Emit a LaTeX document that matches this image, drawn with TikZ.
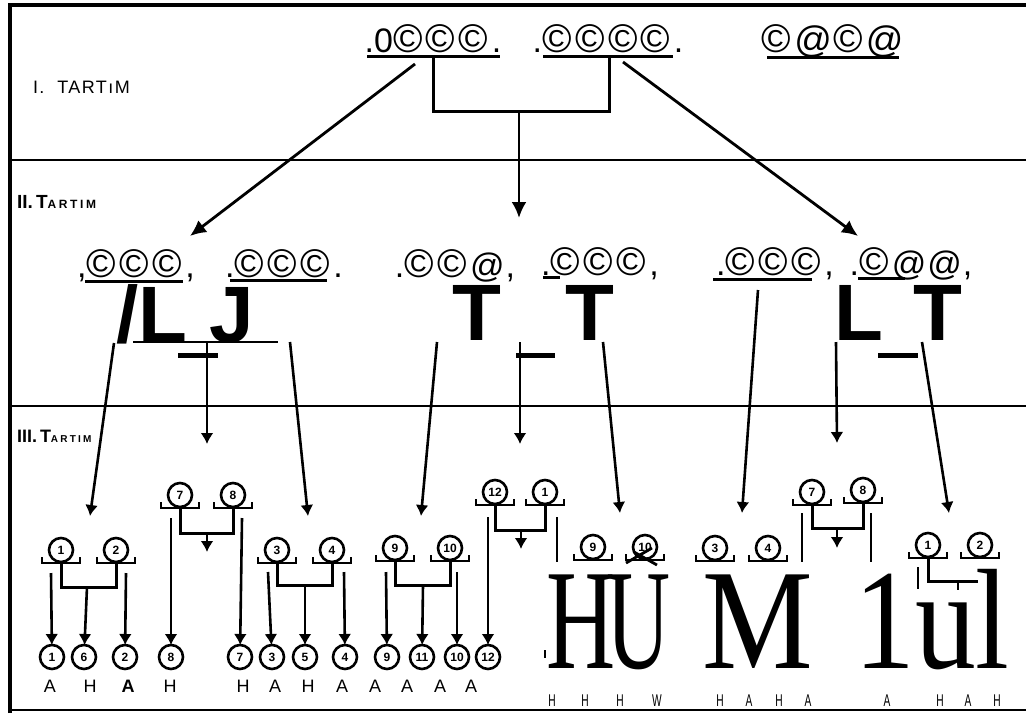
\documentclass[tikz,border=0pt]{standalone}
\usepackage{fontspec}
\setmainfont{Liberation Sans}
\newfontfamily\lsf[LetterSpace=8]{Liberation Sans}
\newfontfamily\scf[LetterSpace=22]{Liberation Sans}
\newfontfamily\plainf{Liberation Sans}
\newfontfamily\serf{Liberation Serif}
\usetikzlibrary{arrows.meta,calc}
\tikzset{
  tray/.pic={\draw[line width=2.8pt] (-19,-6) -- (-19,0) -- (19,0) -- (19,-6);},
}
\newcommand\trnode[4]{\node[num] (#1) at (#2,#3) {#4}; \pic at (#2,#3+13) {tray};}
\newcommand\Co{{\fontsize{40}{40}\selectfont ©}\kern3.5pt}
\newcommand\At{{\fontsize{37}{37}\selectfont @}\kern1pt}
\newcommand\Ats{{\fontsize{34}{34}\selectfont @}\kern1pt}
\begin{document}
\begin{tikzpicture}[x=1pt,y=-1pt,
  every node/.style={inner sep=0pt, outer sep=0pt},
  cc/.style={font=\plainf\fontsize{34}{34}\selectfont, anchor=base},
  big/.style={font=\plainf\bfseries\fontsize{80}{80}\selectfont, anchor=base},
  huge/.style={font=\serf\fontsize{143}{143}\selectfont, anchor=base},
  num/.style={circle, draw, line width=2.6pt, minimum size=24pt, font=\plainf\bfseries\fontsize{12}{12}\selectfont},
  lbl/.style={font=\plainf\fontsize{18}{18}\selectfont, anchor=base},
  lbls/.style={font=\plainf\fontsize{17}{17}\selectfont, anchor=base},
  uline/.style={line width=3pt},
  bar/.style={line width=5pt},
  brk/.style={line width=3pt},
  bigarr/.style={line width=2.8pt, -{Latex[length=16pt,width=15pt]}},
  arr/.style={line width=2.6pt, -{Latex[length=11pt,width=13pt]}},
  plainln/.style={line width=2.6pt},
]
\useasboundingbox (0,0) rectangle (1026,713);
% frame and dividers
\draw[line width=3.5pt] (10,713) -- (10,5) -- (1026,5);
\draw[line width=2.2pt] (10,710) -- (1026,710);
\draw[line width=2pt] (10,160) -- (1026,160);
\draw[line width=2pt] (10,406) -- (1026,406);
% level labels
\node[anchor=base west, font=\lsf\fontsize{18}{18}\selectfont] (lab1) at (33,93) {I.\ \ TARTıM};
\node[anchor=base west, font=\plainf\bfseries] (lab2) at (17,208) {\fontsize{19}{19}\selectfont II.\,T{\scf\bfseries\fontsize{12}{12}\selectfont ARTIM}};
\node[anchor=base west, font=\plainf\bfseries] (lab3) at (17,442) {\fontsize{18}{18}\selectfont III.\,T{\scf\bfseries\fontsize{10}{10}\selectfont ARTIM}};
% row 1
\node[cc] (t1) at (433,52) {.0\Co\Co\Co.};
\node[cc] (t2) at (608,52) {.\Co\Co\Co\Co.};
\node[cc] (t3) at (833,52) {\Co\At\Co\At};
\draw[uline] (367,56) -- (500,56);
\draw[uline] (543,56) -- (673,56);
\draw[uline] (767,57) -- (899,57);
\coordinate (j1) at (433,56);
\coordinate (j2) at (609,56);
\coordinate (jm) at (519,111);
\draw[brk] (j1) |- (jm) -| (j2);
\coordinate (je) at (519,218);
\draw[bigarr] (jm) -- (je);
\coordinate (ls) at (415,64); \coordinate (le) at (190,236);
\coordinate (rs) at (623,62); \coordinate (re) at (858,236);
\draw[bigarr] (ls) -- (le);
\draw[bigarr] (rs) -- (re);
% row 2
\node[cc] (r1) at (136,277) {,\Co\Co\Co,};
\node[cc] (r2) at (284,277) {.\Co\Co\Co.};
\node[cc] (r3) at (455,277) {.\Co\Co\Ats,};
\node[cc] (r4) at (600,275) {.\Co\Co\Co,};
\node[cc] (r5) at (775,275) {.\Co\Co\Co,};
\node[cc] (r6) at (911,275) {.\Co\Ats\Ats,};
\draw[uline] (85,281) -- (183,281);
\draw[uline] (230,280) -- (327,280);
\draw[uline] (713,279) -- (812,279);
\draw[uline] (858,278) -- (905,278);
\draw[uline] (543,277) -- (560,277);
% OCR glyphs
\node[big, anchor=base west] (g1) at (116,342) {/L J};
\node[big] (g2) at (477,340) {T};
\node[big] (g3) at (590,340) {T};
\node[big, anchor=base west] (g4) at (834,340) {L};
\node[big] (g5) at (938,340) {T};
\draw[bar] (178,355) -- (218,355);
\draw[bar] (516,355) -- (555,355);
\draw[bar] (878,355) -- (918,355);
\draw[line width=1.4pt] (133,342) -- (278,342);
% row 2 -> row 3
\coordinate (d1s) at (114,343); \coordinate (d1e) at (90,516);
\coordinate (d2s) at (207,342); \coordinate (d2e) at (207,444);
\coordinate (d3s) at (290,342); \coordinate (d3e) at (308,516);
\coordinate (d4s) at (437,342); \coordinate (d4e) at (421,516);
\coordinate (d5s) at (520,342); \coordinate (d5e) at (520,444);
\coordinate (d6s) at (603,342); \coordinate (d6e) at (620,513);
\coordinate (d7s) at (758,290); \coordinate (d7e) at (742,513);
\coordinate (d8s) at (836,342); \coordinate (d8e) at (837,443);
\coordinate (d9s) at (922,342); \coordinate (d9e) at (949,513);
\foreach \i in {1,...,9} {\draw[arr] (d\i s) -- (d\i e);}
% group A
\trnode{A1}{61}{550}{1}
\trnode{A2}{116}{550}{2}
\coordinate (Am) at (87,587);
\draw[brk] (A1.south) |- (Am) -| (A2.south);
\node[num] (a1) at (52,657) {1};
\node[num] (a6) at (84,657) {6};
\node[num] (a2) at (125,657) {2};
\coordinate (As1) at (51,573); \coordinate (As2) at (126,573);
\draw[arr] (As1) -- (a1);
\draw[arr] (Am) -- (a6);
\draw[arr] (As2) -- (a2);
% group B
\trnode{B7}{180}{495}{7}
\trnode{B8}{233}{495}{8}
\coordinate (Bm) at (207,533); \coordinate (Be) at (207,552);
\draw[brk] (B7.south) |- (Bm) -| (B8.south);
\draw[arr] (Bm) -- (Be);
\node[num] (b8) at (171,657) {8};
\node[num] (b7) at (240,657) {7};
\coordinate (Bs1) at (171,518); \coordinate (Bs2) at (242,518);
\draw[arr] (Bs1) -- (b8);
\draw[arr] (Bs2) -- (b7);
% group C
\trnode{C3}{277}{550}{3}
\trnode{C4}{332}{550}{4}
\coordinate (Cm) at (305,585);
\draw[brk] (C3.south) |- (Cm) -| (C4.south);
\node[num] (c3) at (272,657) {3};
\node[num] (c5) at (305,657) {5};
\node[num] (c4) at (345,657) {4};
\coordinate (Cs1) at (268,572); \coordinate (Cs2) at (344,572);
\draw[arr] (Cs1) -- (c3);
\draw[arr] (Cm) -- (c5);
\draw[arr] (Cs2) -- (c4);
% group D
\trnode{D9}{395}{548}{9}
\trnode{D10}{450}{548}{10}
\coordinate (Dm) at (423,585);
\draw[brk] (D9.south) |- (Dm) -| (D10.south);
\node[num] (d9) at (387,657) {9};
\node[num] (d11) at (422,657) {11};
\node[num] (d10) at (457,657) {10};
\coordinate (Ds1) at (386,572); \coordinate (Ds2) at (457,572);
\draw[arr] (Ds1) -- (d9);
\draw[arr] (Dm) -- (d11);
\draw[arr] (Ds2) -- (d10);
% group E
\trnode{E12}{495}{492}{12}
\trnode{E1}{545}{492}{1}
\coordinate (Em) at (521,530); \coordinate (Ee) at (521,549);
\draw[brk] (E12.south) |- (Em) -| (E1.south);
\draw[arr] (Em) -- (Ee);
\node[num] (e12) at (488,657) {12};
\coordinate (Es1) at (488,517);
\draw[arr] (Es1) -- (e12);
\coordinate (Et1) at (557,517); \coordinate (Et2) at (557,562);
\draw[plainln] (Et1) -- (Et2);
% group F
\trnode{F9}{593}{547}{9}
\trnode{F10}{645}{547}{10}
\draw[line width=2.8pt] (626,563) -- (652,548);
\draw[line width=2.8pt] (634,552) -- (657,565);
% group G
\trnode{G3}{715}{548}{3}
\trnode{G4}{768}{548}{4}
% group H
\trnode{H7}{812}{492}{7}
\trnode{H8}{863}{490}{8}
\coordinate (Hm) at (837,528); \coordinate (He) at (837,548);
\draw[brk] (H7.south) |- (Hm) -| (H8.south);
\draw[arr] (Hm) -- (He);
\draw[plainln] (802,513) -- (802,562);
\draw[plainln] (871,513) -- (871,562);
% group I
\trnode{I1}{928}{545}{1}
\trnode{I2}{980}{545}{2}
\coordinate (Im) at (978,581);
\draw[brk] (I1.south) |- (Im);
\draw[plainln] (958,581) -- (958,590);
\draw[plainln] (918,567) -- (918,589);
% big OCR serif letters
\node[huge] (h1) at (581,668) {\scalebox{0.67}[1]{H}};
\node[huge] (h2) at (639,668) {\scalebox{0.62}[1]{U}};
\node[huge] (h3) at (758,668) {\scalebox{0.87}[1]{M}};
\node[huge] (h4) at (932,668) {\scalebox{0.85}[1]{1ul}};
\draw[line width=1.5pt] (545,650) -- (545,658);
% bottom letters left
\foreach \x/\t [count=\k] in {50/A,90/H,170/H,243/H,275/A,308/H,342/A,375/A,407/A,440/A,471/A}
  {\node[lbl] (bl\k) at (\x,692) {\t};}
\node[lbl, font=\plainf\bfseries\fontsize{18}{18}\selectfont] (blA) at (128,692) {A};
% bottom letters right
\foreach \x/\t [count=\k] in {552/H,585/H,620/H,657/W,720/H,749/A,779/H,808/A,887/A,940/H,968/A,997/H}
  {\node[lbls] (br\k) at (\x,706) {\scalebox{0.6}[1]{\t}};}
\end{tikzpicture}
\end{document}
